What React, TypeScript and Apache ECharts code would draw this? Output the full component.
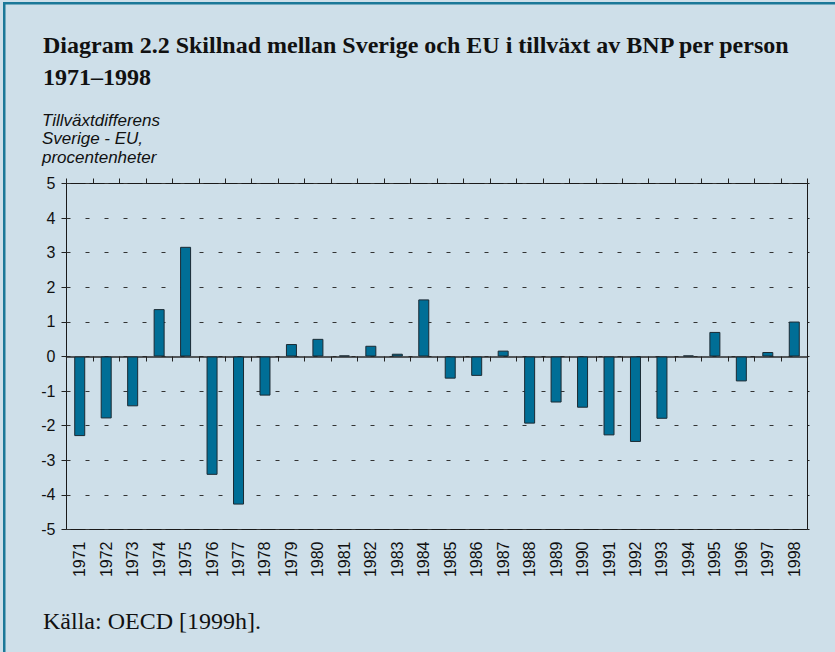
import React, { useEffect, useRef } from "react";
import * as echarts from "echarts";

const years = [
  "1971", "1972", "1973", "1974", "1975", "1976", "1977", "1978", "1979", "1980",
  "1981", "1982", "1983", "1984", "1985", "1986", "1987", "1988", "1989", "1990",
  "1991", "1992", "1993", "1994", "1995", "1996", "1997", "1998",
];
const growthDiff = [
  -2.3, -1.79, -1.44, 1.37, 3.17, -3.42, -4.28, -1.13, 0.36, 0.51,
  0.03, 0.31, 0.08, 1.65, -0.64, -0.56, 0.17, -1.94, -1.33, -1.48,
  -2.28, -2.47, -1.8, 0.03, 0.71, -0.72, 0.13, 1.01,
];
const yMin = -5;
const yMax = 5;
const yStep = 1;
const titleLines = [
  "Diagram 2.2 Skillnad mellan Sverige och EU i tillväxt av BNP per person",
  "1971–1998",
];
const yAxisTitleLines = ["Tillväxtdifferens", "Sverige - EU,", "procentenheter"];
const sourceText = "Källa: OECD [1999h].";

const BG = "#cedfe9";
const FRAME = "#1b7898";
const BAR = "#006e96";
const INK = "#111111";

export default function App() {
  const ref = useRef<HTMLDivElement>(null);
  useEffect(() => {
    if (!ref.current) return;
    const chart = echarts.init(ref.current, undefined, { renderer: "svg" });
    const gridRect = { left: 66.5, top: 183.5, width: 741, height: 346 };
    const graphic: any[] = [
      { type: "rect", left: 3, top: 2, shape: { x: 0, y: 0, width: 832, height: 2.5 }, style: { fill: FRAME }, silent: true },
      { type: "rect", left: 3, top: 2, shape: { x: 0, y: 0, width: 2.5, height: 650 }, style: { fill: FRAME }, silent: true },
    ];
    titleLines.forEach((t, i) => {
      graphic.push({
        type: "text",
        x: 43,
        y: 45 + i * 32,
        style: {
          text: t,
          fontFamily: "Liberation Serif",
          fontWeight: "bold",
          fontSize: 24,
          fill: INK,
          verticalAlign: "middle",
          align: "left",
        },
      });
    });
    yAxisTitleLines.forEach((t, i) => {
      graphic.push({
        type: "text",
        x: 42,
        y: 120 + i * 18.5,
        style: {
          text: t,
          fontFamily: "Liberation Sans",
          fontStyle: "italic",
          fontSize: 17,
          fill: INK,
          verticalAlign: "middle",
          align: "left",
        },
      });
    });
    graphic.push({
      type: "text",
      x: 43,
      y: 621,
      style: {
        text: sourceText,
        fontFamily: "Liberation Serif",
        fontSize: 24,
        fill: INK,
        verticalAlign: "middle",
        align: "left",
      },
    });

    const tickStyle = { color: "#222222", width: 1 };
    chart.setOption({
      animation: false,
      backgroundColor: BG,
      graphic,
      grid: [
        { ...gridRect, show: true, borderColor: "#1a1a1a", borderWidth: 1, backgroundColor: "transparent" },
        { ...gridRect, show: false },
      ],
      xAxis: [
        {
          type: "category",
          data: years,
          gridIndex: 0,
          position: "bottom",
          axisLine: { show: false, onZero: false },
          axisTick: { show: false },
          axisLabel: {
            rotate: 90,
            interval: 0,
            fontSize: 16,
            fontFamily: "Liberation Sans",
            color: INK,
            margin: 12,
          },
          splitLine: { show: false },
        },
        {
          type: "category",
          data: years,
          gridIndex: 1,
          position: "bottom",
          axisLine: { show: true, onZero: true, lineStyle: { color: "#2a2a2a", width: 1.5 } },
          axisTick: { show: true, length: 5, interval: 0, lineStyle: tickStyle },
          axisLabel: { show: false },
          splitLine: { show: false },
        },
        {
          type: "category",
          data: years,
          gridIndex: 1,
          position: "top",
          axisLine: { show: false, onZero: true },
          axisTick: { show: true, length: 5, interval: 0, lineStyle: tickStyle },
          axisLabel: { show: false },
          splitLine: { show: false },
        },
      ],
      yAxis: [
        {
          type: "value",
          gridIndex: 0,
          position: "left",
          min: yMin,
          max: yMax,
          interval: yStep,
          axisLine: { show: false },
          axisTick: { show: true, length: 5, lineStyle: tickStyle },
          axisLabel: {
            fontSize: 16,
            fontFamily: "Liberation Sans",
            color: INK,
            margin: 11,
          },
          splitLine: {
            show: true,
            lineStyle: { type: [4, 15], color: "#333333", width: 1 },
          },
        },
        {
          type: "value",
          gridIndex: 0,
          position: "right",
          min: yMin,
          max: yMax,
          interval: yStep,
          axisLine: { show: false },
          axisTick: { show: true, length: 2, lineStyle: tickStyle },
          axisLabel: { show: false },
          splitLine: { show: false },
        },
        {
          type: "value",
          gridIndex: 1,
          min: yMin,
          max: yMax,
          interval: yStep,
          show: false,
        },
      ],
      series: [
        {
          type: "bar",
          xAxisIndex: 0,
          yAxisIndex: 0,
          data: growthDiff,
          barWidth: 11,
          itemStyle: { color: BAR, borderColor: "#1b2a33", borderWidth: 1 },
          z: 2,
        },
      ],
    });
    return () => chart.dispose();
  }, []);
  return (
    <div
      ref={ref}
      style={{ position: "fixed", left: 0, top: 0, width: 835, height: 652 }}
    />
  );
}
